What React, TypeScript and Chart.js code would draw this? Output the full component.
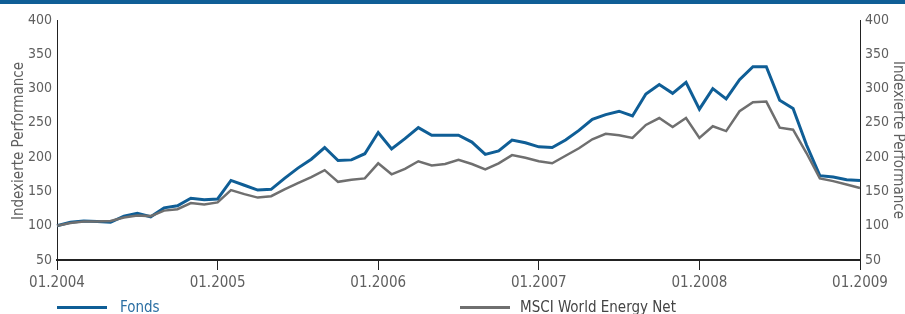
import React, { useEffect, useRef } from "react";
import { Chart, registerables } from "chart.js";

Chart.register(...registerables);

const months: string[] = [];
for (let y = 2004; y <= 2009; y++) {
  for (let m = 1; m <= 12; m++) {
    if (y === 2009 && m > 1) break;
    months.push(String(m).padStart(2, "0") + "." + y);
  }
}

const fonds = [
  100, 105, 107, 106, 105, 114, 118, 113, 126, 129, 140, 138, 139,
  166, 159, 152, 153, 169, 184, 197, 214, 195, 196, 205,
  236, 212, 227, 243, 232, 232, 232, 222, 204, 209, 225, 221,
  215, 214, 225, 239, 255, 262, 267, 260, 292, 306, 293, 309,
  270, 300, 285, 313, 332, 332, 283, 271, 218, 173, 171, 167, 166,
];

const msci = [
  100, 104, 106, 106, 107, 112, 115, 114, 122, 124, 133, 131, 134,
  152, 146, 141, 143, 153, 162, 171, 181, 164, 167, 169,
  191, 175, 183, 194, 188, 190, 196, 190, 182, 191, 203, 199,
  194, 191, 202, 213, 226, 234, 232, 228, 247, 257, 244, 257,
  228, 245, 238, 267, 280, 281, 243, 240, 206, 169, 165, 160, 155,
];

const yTicks = [50, 100, 150, 200, 250, 300, 350, 400];
const axisTitle = "Indexierte Performance";
const seriesNames = ["Fonds", "MSCI World Energy Net"];

const BLUE = "#0f5e96";
const GRAY = "#6f6f6f";
const FONT = "'Liberation Sans Narrow', 'DejaVu Sans Condensed', sans-serif";
const TEXT = "#5f5f5f";

export default function App() {
  const ref = useRef<HTMLCanvasElement | null>(null);
  useEffect(() => {
    if (!ref.current) return;
    const isYear = (i: number) => i % 12 === 0;
    const yAxisCommon = {
      min: 50,
      max: 400,
      afterBuildTicks: (s: any) => {
        s.ticks = yTicks.map((v) => ({ value: v }));
      },
      grid: { display: false, drawTicks: false },
      border: { display: true, color: "#222", width: 1 },
      ticks: { color: TEXT, font: { family: FONT, size: 14 }, padding: 5 },
      title: { display: false },
    };
    const chart = new Chart(ref.current, {
      type: "line",
      data: {
        labels: months,
        datasets: [
          {
            label: seriesNames[1],
            data: msci,
            borderColor: GRAY,
            borderWidth: 2.5,
            pointRadius: 0,
            tension: 0,
            yAxisID: "y",
          },
          {
            label: seriesNames[0],
            data: fonds,
            borderColor: BLUE,
            borderWidth: 3,
            pointRadius: 0,
            tension: 0,
            yAxisID: "y",
          },
        ],
      },
      options: {
        responsive: false,
        animation: false,
        devicePixelRatio: 1,
        layout: { padding: { top: 20, bottom: 0, left: 0, right: 0 } },
        plugins: { legend: { display: false }, tooltip: { enabled: false } },
        scales: {
          x: {
            type: "category",
            offset: false,
            afterFit: (s: any) => {
              s.height = 54;
            },
            grid: {
              display: true,
              drawOnChartArea: false,
              drawTicks: true,
              tickLength: 10,
              color: (ctx: any) => (isYear(ctx.index) ? "#222" : "rgba(0,0,0,0)"),
              lineWidth: 1,
            },
            border: { display: true, color: "#222", width: 2 },
            ticks: {
              autoSkip: false,
              maxRotation: 0,
              color: TEXT,
              font: { family: FONT, size: 15 },
              padding: 4,
              callback: (_v: any, i: number) => (isYear(i) ? months[i] : ""),
            },
          },
          y: {
            ...yAxisCommon,
            position: "left",
            afterFit: (s: any) => {
              s.width = 57;
            },
          } as any,
          y2: {
            ...yAxisCommon,
            position: "right",
            afterFit: (s: any) => {
              s.width = 45;
            },
          } as any,
        },
      },
    });
    return () => chart.destroy();
  }, []);

  const titleStyle: React.CSSProperties = {
    position: "absolute",
    width: 200,
    height: 18,
    lineHeight: "18px",
    textAlign: "center",
    fontFamily: FONT,
    fontSize: 15,
    color: TEXT,
    whiteSpace: "nowrap",
  };

  return (
    <div style={{ position: "fixed", left: 0, top: 0, width: 905, height: 314, background: "#fff", overflow: "hidden" }}>
      <div style={{ position: "absolute", left: 0, top: 0, width: 905, height: 4, background: BLUE }} />
      <canvas ref={ref} width={905} height={314} style={{ position: "absolute", left: 0, top: 0, width: 905, height: 314 }} />
      <div style={{ ...titleStyle, left: 18 - 100, top: 141 - 9, transform: "rotate(-90deg)" }}>{axisTitle}</div>
      <div style={{ ...titleStyle, left: 899 - 100, top: 140 - 9, transform: "rotate(90deg)" }}>{axisTitle}</div>
      <div style={{ position: "absolute", left: 57, top: 306, width: 50, height: 3, background: BLUE }} />
      <div style={{ position: "absolute", left: 120, top: 298, fontFamily: FONT, fontSize: 15, color: "#2b6fa3", lineHeight: "18px" }}>{seriesNames[0]}</div>
      <div style={{ position: "absolute", left: 460, top: 306, width: 50, height: 3, background: GRAY }} />
      <div style={{ position: "absolute", left: 520, top: 298, fontFamily: FONT, fontSize: 15, color: "#444", lineHeight: "18px" }}>{seriesNames[1]}</div>
    </div>
  );
}
